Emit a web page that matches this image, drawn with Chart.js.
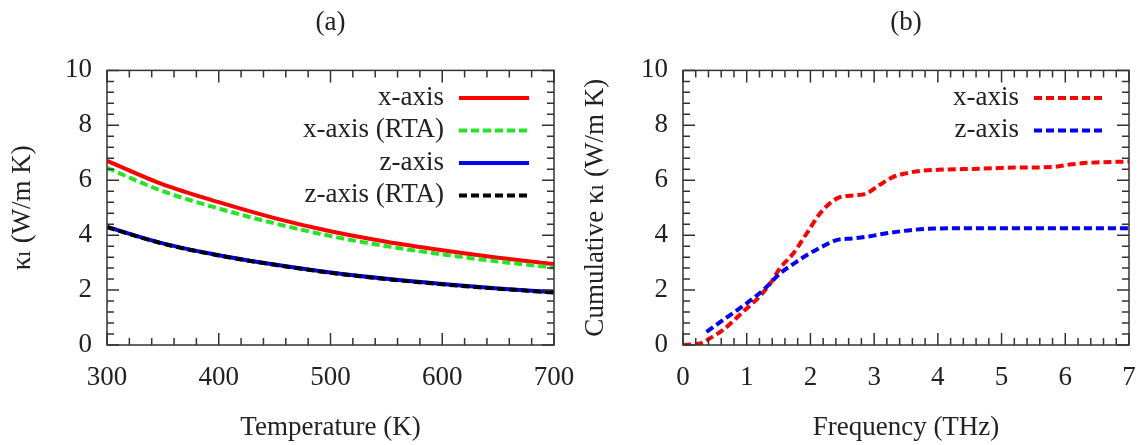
<!DOCTYPE html>
<html lang="en">
<head>
    <meta charset="UTF-8">
    <title>Thermal conductivity</title>
    <script src="https://cdn.jsdelivr.net/npm/chart.js"></script>
    <style>
        body {
            margin: 0;
            padding: 0;
            background-color: #fff;
        }
        .wrap {
            position: relative;
            width: 1140px;
            height: 445px;
        }
        #chartA {
            position: absolute;
            left: 0;
            top: 0;
        }
        #chartB {
            position: absolute;
            left: 570px;
            top: 0;
        }
    </style>
</head>
<body>
    <div class="wrap">
        <canvas id="chartA" width="600" height="445"></canvas>
        <canvas id="chartB" width="570" height="445"></canvas>
    </div>

    <script>
        // panel (a): kappa vs temperature
        const temps = [300, 350, 400, 450, 500, 550, 600, 650, 700];
        const kxFull = [6.71, 5.85, 5.2, 4.62, 4.14, 3.76, 3.45, 3.18, 2.95];
        const kxRta = [6.45, 5.6, 4.97, 4.43, 3.97, 3.6, 3.3, 3.04, 2.82];
        const kzFull = [4.3, 3.7, 3.27, 2.93, 2.64, 2.41, 2.22, 2.06, 1.92];
        const kzRta = [4.29, 3.69, 3.26, 2.92, 2.63, 2.4, 2.21, 2.05, 1.91];

        // panel (b): cumulative kappa vs frequency
        const freqX = [0, 0.15, 0.3, 0.42, 0.63, 0.8, 1.0, 1.2, 1.37, 1.52, 1.73, 1.94, 2.15, 2.3, 2.47, 2.7, 2.88, 3.1, 3.3, 3.5, 3.72, 4.0, 4.66, 5.2, 5.8, 6.1, 6.4, 7.0];
        const cumX = [0, 0.02, 0.08, 0.24, 0.55, 0.9, 1.33, 1.76, 2.24, 2.79, 3.33, 4.06, 4.79, 5.15, 5.39, 5.45, 5.52, 5.85, 6.12, 6.25, 6.34, 6.38, 6.42, 6.46, 6.48, 6.58, 6.64, 6.68];
        const freqZ = [0.37, 0.63, 1.0, 1.26, 1.52, 1.75, 1.94, 2.2, 2.41, 2.65, 2.88, 3.1, 3.35, 3.6, 3.93, 4.5, 5.5, 7.0];
        const cumZ = [0.48, 0.91, 1.52, 2.0, 2.6, 2.98, 3.27, 3.6, 3.82, 3.88, 3.94, 4.03, 4.12, 4.19, 4.24, 4.25, 4.25, 4.25];

        // tick labels
        const kappaTicks = [0, 2, 4, 6, 8, 10];
        const tempTicks = [300, 400, 500, 600, 700];
        const freqTicks = [0, 1, 2, 3, 4, 5, 6, 7];

        const serif = "'Liberation Serif', 'DejaVu Serif', serif";
        Chart.defaults.font.family = serif;
        Chart.defaults.font.size = 27;
        Chart.defaults.color = '#222';

        const pts = (xs, ys) => xs.map((x, i) => ({x: x, y: ys[i]}));

        // box round the plot with inward major and minor ticks on all sides
        const frame = {
            id: 'frame',
            afterDraw(chart, args, opts) {
                const {ctx, chartArea: a, scales} = chart;
                const marks = scale => {
                    const t = scale.ticks.map(tk => tk.value);
                    const out = [];
                    for (let i = 0; i < t.length; i++) {
                        out.push([t[i], 12]);
                        if (i < t.length - 1) {
                            for (let k = 1; k < opts.minor; k++) {
                                out.push([t[i] + (t[i + 1] - t[i]) * k / opts.minor, 7]);
                            }
                        }
                    }
                    return out;
                };
                ctx.save();
                ctx.strokeStyle = '#333';
                ctx.lineWidth = 1.5;
                ctx.setLineDash([]);
                ctx.beginPath();
                marks(scales.x).forEach(([v, len]) => {
                    const px = scales.x.getPixelForValue(v);
                    ctx.moveTo(px, a.bottom); ctx.lineTo(px, a.bottom - len);
                    ctx.moveTo(px, a.top); ctx.lineTo(px, a.top + len);
                });
                marks(scales.y).forEach(([v, len]) => {
                    const py = scales.y.getPixelForValue(v);
                    ctx.moveTo(a.left, py); ctx.lineTo(a.left + len, py);
                    ctx.moveTo(a.right, py); ctx.lineTo(a.right - len, py);
                });
                ctx.stroke();
                ctx.strokeRect(a.left, a.top, a.right - a.left, a.bottom - a.top);
                ctx.restore();
            }
        };

        // gnuplot-style key: label on the left, line sample on the right
        const insideKey = {
            id: 'insideKey',
            afterDatasetsDraw(chart, args, opts) {
                const {ctx, chartArea: a} = chart;
                ctx.save();
                ctx.font = '27px ' + serif;
                ctx.textAlign = 'right';
                ctx.textBaseline = 'middle';
                chart.data.datasets.forEach((ds, i) => {
                    const y = a.top + opts.top + i * opts.gap;
                    ctx.fillStyle = '#222';
                    ctx.fillText(ds.label, a.right - opts.textRight, y);
                    ctx.beginPath();
                    ctx.strokeStyle = ds.borderColor;
                    ctx.lineWidth = ds.borderWidth;
                    ctx.setLineDash(ds.borderDash || []);
                    ctx.moveTo(a.right - opts.lineStart, y);
                    ctx.lineTo(a.right - opts.lineEnd, y);
                    ctx.stroke();
                });
                ctx.restore();
            }
        };

        function line(label, data, color, dashed, order) {
            return {
                label: label,
                data: data,
                borderColor: color,
                borderWidth: 4,
                borderDash: dashed ? [8, 4] : [],
                pointRadius: 0,
                fill: false,
                cubicInterpolationMode: 'monotone',
                order: order
            };
        }

        function axes(xTicks, xMin, xMax, xTitle, yTitle, yWidth, yTitlePad) {
            return {
                x: {
                    type: 'linear',
                    min: xMin,
                    max: xMax,
                    grid: {display: false, drawTicks: false},
                    border: {display: false},
                    ticks: {padding: 17, maxRotation: 0},
                    afterBuildTicks: s => { s.ticks = xTicks.map(v => ({value: v})); },
                    afterFit: s => { s.height = 100; s.paddingLeft = 0; s.paddingRight = 0; },
                    title: {display: true, text: xTitle, padding: {top: 0, bottom: 1}}
                },
                y: {
                    min: 0,
                    max: 10,
                    grid: {display: false, drawTicks: false},
                    border: {display: false},
                    ticks: {padding: 15},
                    afterBuildTicks: s => { s.ticks = kappaTicks.map(v => ({value: v})); },
                    afterFit: s => { s.width = yWidth; s.paddingTop = 0; s.paddingBottom = 0; },
                    title: {display: true, text: yTitle, padding: {top: yTitlePad, bottom: 0}}
                }
            };
        }

        const keyOpts = {top: 27.5, gap: 32.5, textRight: 110, lineStart: 95, lineEnd: 25};

        const chartA = new Chart(document.getElementById('chartA'), {
            type: 'line',
            data: {
                datasets: [
                    line('x-axis', pts(temps, kxFull), '#ff0000', false, 3),
                    line('x-axis (RTA)', pts(temps, kxRta), '#22e622', true, 2),
                    line('z-axis', pts(temps, kzFull), '#0000ff', false, 1),
                    line('z-axis (RTA)', pts(temps, kzRta), '#000000', true, 0)
                ]
            },
            options: {
                responsive: false,
                animation: false,
                layout: {padding: {left: 0, right: 46, top: 0, bottom: 0}},
                scales: axes(tempTicks, 300, 700, 'Temperature (K)', 'κₗ (W/m K)', 107, 7),
                plugins: {
                    legend: {display: false},
                    tooltip: {enabled: false},
                    title: {display: true, text: '(a)', fullSize: false, color: '#222',
                            font: {size: 27, weight: 'normal'}, padding: {top: 7, bottom: 31}},
                    frame: {minor: 5},
                    insideKey: keyOpts
                }
            },
            plugins: [frame, insideKey]
        });

        const chartB = new Chart(document.getElementById('chartB'), {
            type: 'line',
            data: {
                datasets: [
                    line('x-axis', pts(freqX, cumX), '#ff0000', true, 1),
                    line('z-axis', pts(freqZ, cumZ), '#0000ff', true, 0)
                ]
            },
            options: {
                responsive: false,
                animation: false,
                layout: {padding: {left: 0, right: 11, top: 0, bottom: 0}},
                scales: axes(freqTicks, 0, 7, 'Frequency (THz)', 'Cumulative κₗ (W/m K)', 113, 10),
                plugins: {
                    legend: {display: false},
                    tooltip: {enabled: false},
                    title: {display: true, text: '(b)', fullSize: false, color: '#222',
                            font: {size: 27, weight: 'normal'}, padding: {top: 7, bottom: 31}},
                    frame: {minor: 5},
                    insideKey: keyOpts
                }
            },
            plugins: [frame, insideKey]
        });
    </script>
</body>
</html>
